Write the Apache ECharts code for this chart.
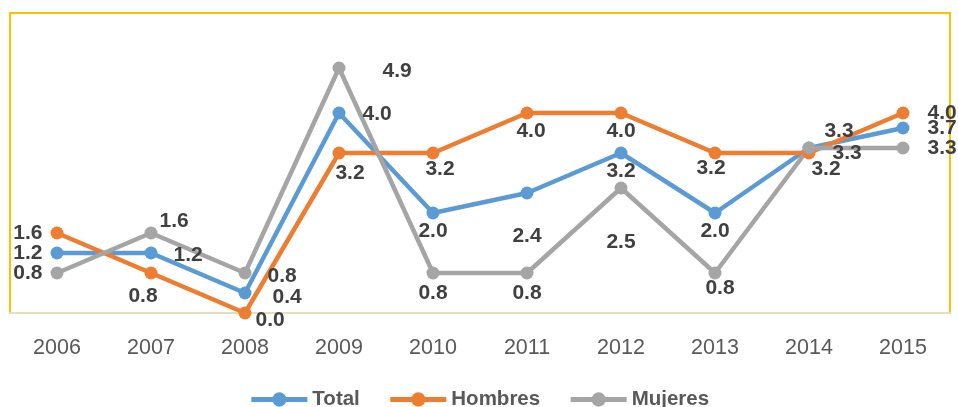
<!DOCTYPE html>
<html>
<head>
<meta charset="utf-8">
<script src="https://cdn.jsdelivr.net/npm/echarts@6/dist/echarts.min.js"></script>
<style>
  html, body { margin: 0; padding: 0; background: #fff; }
  #main { width: 958px; height: 407px; }
</style>
</head>
<body>
<div id="main"></div>
<script>
// años y valores (%)
const years = ['2006', '2007', '2008', '2009', '2010', '2011', '2012', '2013', '2014', '2015']
const total = [1.2, 1.2, 0.4, 4.0, 2.0, 2.4, 3.2, 2.0, 3.3, 3.7]
const hombres = [1.6, 0.8, 0.0, 3.2, 3.2, 4.0, 4.0, 3.2, 3.2, 4.0]
const mujeres = [0.8, 1.6, 0.8, 4.9, 0.8, 0.8, 2.5, 0.8, 3.3, 3.3]

// posición de cada etiqueta
const totalPos = ['left', 'right', 'right', 'right', 'bottom', 'bottom', 'bottom', 'bottom', 'top', 'right']
const hombresPos = ['left', 'bottom', 'right', 'bottom', 'bottom', 'bottom', 'bottom', 'bottom', 'bottom', 'right']
const mujeresPos = ['left', 'right', 'right', 'right', 'bottom', 'bottom', 'bottom', 'bottom', 'right', 'right']
const totalOff = [[0, 0], [8, 2], [13, 4], [9, 1], [0, -7], [0, 18], [0, -7], [0, -7], [30, 8], [10, 0]]
const hombresOff = [[0, 0], [-8, -2], [-4, 7], [11, -5], [7, -9], [4, -7], [0, -7], [-4, -10], [17, -9], [10, 0]]
const mujeresOff = [[0, 0], [-6, -12], [8, 3], [29, 3], [0, -5], [0, -5], [0, 29], [5, -10], [9, 5], [10, 0]]

function points(vals, pos, off) {
  return vals.map(function (v, i) {
    return { value: v, label: { position: pos[i], offset: off[i] } }
  })
}

const labelStyle = {
  show: true,
  fontFamily: 'Liberation Sans',
  fontWeight: 'bold',
  fontSize: 21,
  color: '#404040',
  distance: 8,
  formatter: function (p) { return p.value.toFixed(1) }
}

function serie(name, color, data) {
  return {
    name: name,
    type: 'line',
    symbol: 'circle',
    symbolSize: 13,
    lineStyle: { width: 4.5, color: color },
    itemStyle: { color: color },
    label: labelStyle,
    data: data
  }
}

let chart = echarts.init(document.getElementById('main'))
chart.setOption({
  animation: false,
  grid: {
    left: 10, right: 8, top: 13, bottom: 94,
    show: true,
    borderColor: '#FFC000',
    borderWidth: 2
  },
  legend: {
    top: 384,
    left: 'center',
    itemWidth: 56,
    itemHeight: 18,
    itemGap: 28,
    lineStyle: { width: 5 },
    textStyle: {
      fontFamily: 'Liberation Sans',
      fontWeight: 'bold',
      fontSize: 20.5,
      color: '#595959'
    },
    data: ['Total', 'Hombres', 'Mujeres']
  },
  xAxis: {
    type: 'category',
    data: years,
    axisLine: { lineStyle: { color: '#E6DCC0', width: 2 } },
    axisTick: { show: false },
    axisLabel: {
      margin: 24,
      fontFamily: 'Liberation Sans',
      fontSize: 21.5,
      color: '#595959'
    }
  },
  yAxis: {
    type: 'value',
    min: 0,
    max: 6,
    show: false
  },
  series: [
    serie('Total', '#5B9BD5', points(total, totalPos, totalOff)),
    serie('Hombres', '#ED7D31', points(hombres, hombresPos, hombresOff)),
    serie('Mujeres', '#A5A5A5', points(mujeres, mujeresPos, mujeresOff))
  ]
})
</script>
</body>
</html>
